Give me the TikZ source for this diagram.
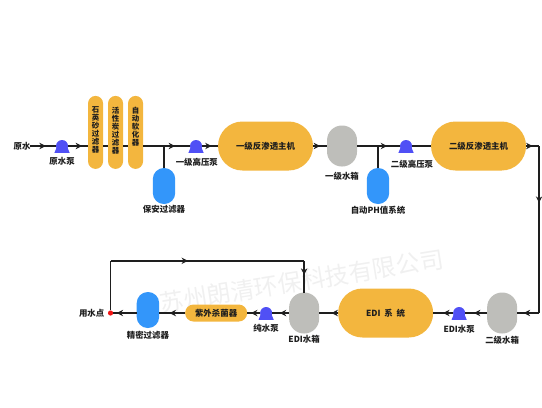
\documentclass[tikz,border=0pt]{standalone}
\usepackage{fontspec}
\setmainfont{Noto Sans CJK SC}
\usetikzlibrary{arrows.meta,positioning,calc,decorations.markings}
\definecolor{ink}{RGB}{30,30,30}
\definecolor{gold}{RGB}{243,182,62}
\definecolor{sky}{RGB}{51,150,250}
\definecolor{stone}{RGB}{190,190,186}
\definecolor{pumpblue}{RGB}{80,80,245}
\definecolor{dotred}{RGB}{240,20,20}
\definecolor{mark}{RGB}{240,240,240}
\tikzset{
  every picture/.style={color=ink, line width=0.35mm},
  every node/.style={outer sep=0pt},
  lbl/.style={font=\fontsize{6}{7}\selectfont\bfseries, text=ink, inner sep=0pt},
  vtext/.style={lbl, align=center, font=\fontsize{5.3}{5.7}\selectfont\bfseries},
  column/.style={fill=gold, rounded corners=1.875mm, minimum width=3.75mm, minimum height=18.25mm, inner sep=0pt},
  unit/.style={lbl, fill=gold, rounded corners=6.1mm, minimum width=23.75mm, minimum height=12.25mm},
  lamp/.style={lbl, fill=gold, rounded corners=2.1mm, minimum width=15.5mm, minimum height=4.25mm},
  tank/.style={fill=stone, rounded corners=3.7mm, minimum width=7.5mm, minimum height=10.25mm, inner sep=0pt},
  filt/.style={fill=sky, rounded corners=2.75mm, minimum width=5.6mm, minimum height=9mm, inner sep=0pt},
  pump/.style={circle, fill=pumpblue, minimum size=3mm, inner sep=0pt},
  pipe/.style={line width=0.35mm},
  flow/.style={pipe, postaction={decorate}, decoration={markings, mark=at position #1 with {\arrow{Stealth[length=1.6mm,width=1.6mm]}}}},
  flow/.default=0.5,
}
\begin{document}
\begin{tikzpicture}
  \useasboundingbox (0,0) rectangle (135.5mm,-101.75mm);
  \node[font=\fontsize{17}{17}\selectfont, text=mark, rotate=9, inner sep=0pt] (wm) at (75.4mm,-70.2mm) {苏州朗清环保科技有限公司};
  % top row
  \node[lbl] (raw) at (5.5mm,-36.5mm) {原水};
  \node[pump, right=6.4mm of raw] (pa) {};
  \node[column, right=5mm of pa, yshift=3.4mm] (fa) {};
  \node[column, right=1.25mm of fa] (fb) {};
  \node[column, right=1.25mm of fb] (fc) {};
  \node[vtext, below=2.7mm of fa.north] (ta) {石\\英\\砂\\过\\滤\\器};
  \node[vtext, below=2.7mm of fb.north] (tb) {活\\性\\炭\\过\\滤\\器};
  \node[vtext, below=2.7mm of fc.north] (tc) {自\\动\\软\\化\\器};
  \node[pump, right=11.75mm of fc, yshift=-3.4mm] (pb) {};
  \node[unit, right=4mm of pb] (ra) {一级反渗透主机};
  \node[tank, right=3.5mm of ra] (wa) {};
  \node[pump, right=10.75mm of wa] (pc) {};
  \node[unit, right=4.75mm of pc] (rb) {二级反渗透主机};
  \coordinate[right=3.25mm of rb] (ca);
  \node[filt, below=4mm of pb, xshift=-8mm] (ga) {};
  \node[filt, below=4mm of pc, xshift=-7mm] (gb) {};
  % bottom row
  \node[tank, below=30.5mm of rb, xshift=5.9mm] (wb) {};
  \coordinate (cb) at (ca |- wb);
  \node[pump, left=5.5mm of wb] (pd) {};
  \node[unit, left=5mm of pd] (edi) {EDI\ \ 系\ \ 统};
  \node[tank, left=4.75mm of edi] (wc) {};
  \node[pump, left=4.25mm of wc] (pe) {};
  \node[lamp, left=3.25mm of pe] (uv) {紫外杀菌器};
  \node[filt, left=6.5mm of uv, yshift=0.75mm] (gc) {};
  \node[circle, fill=dotred, minimum size=1.3mm, inner sep=0pt, left=5.9mm of gc, yshift=-0.75mm] (use) {};
  \node[lbl, left=0.9mm of use] (usel) {用水点};
  \coordinate[above=12.4mm of use] (la);
  \coordinate (lb) at (la -| wc);
  % labels
  \node[lbl, below=1.35mm of pa] (la1) {原水泵};
  \node[lbl, below=1.65mm of pb, xshift=0.2mm] (la2) {一级高压泵};
  \node[lbl, below=1.35mm of wa] (la3) {一级水箱};
  \node[lbl, below=2mm of pc, xshift=1.5mm] (la4) {二级高压泵};
  \node[lbl, below=0.2mm of ga] (la5) {保安过滤器};
  \node[lbl, below=0.5mm of gb] (la6) {自动PH值系统};
  \node[lbl, below=0.6mm of wb] (la7) {二级水箱};
  \node[lbl, below=1.55mm of pd] (la8) {EDI水泵};
  \node[lbl, below=0.4mm of wc] (la9) {EDI水箱};
  \node[lbl, below=1.35mm of pe] (la10) {纯水泵};
  \node[lbl, below=0.7mm of gc] (la11) {精密过滤器};
  % pump feet
  \foreach \n in {pa,pb,pc,pd,pe} {
    \fill[pumpblue] ($(\n.center)+(-1.2mm,0)$) -- ($(\n.center)+(1.2mm,0)$) -- ($(\n.center)+(1.9mm,-1.7mm)$) -- ($(\n.center)+(-1.9mm,-1.7mm)$) -- cycle;
  }
  % pipes
  \draw[flow=.6] (raw) -- (pa);
  \draw[flow=.7] (pa) -- (fa.west |- pa);
  \draw[pipe] (fa.east |- pa) -- (fb.west |- pa);
  \draw[pipe] (fb.east |- pa) -- (fc.west |- pa);
  \draw[flow=.68] (fc.east |- pa) -- (pb);
  \draw[pipe] (ga.north) -- (ga.north |- pb);
  \draw[flow=.6] (pb) -- (ra);
  \draw[flow] (ra) -- (wa);
  \draw[flow=.7] (wa) -- (pc);
  \draw[pipe] (gb.north) -- (gb.north |- pc);
  \draw[pipe] (pc) -- (rb);
  \draw[flow] (rb) -- (ca);
  \draw[flow=.34] (ca) -- (cb);
  \draw[flow=.7] (cb) -- (wb);
  \draw[flow=.6] (wb) -- (pd);
  \draw[flow] (pd) -- (edi);
  \draw[flow=.35] (edi) -- (wc);
  \draw[flow=.55] (wc) -- (pe);
  \draw[flow=.7] (pe) -- (uv);
  \draw[flow=.6] (uv) -- (gc.east |- uv);
  \draw[flow=.85] (gc.west |- use) -- (use);
  \draw[pipe] (use) -- (la);
  \draw[flow=.4] (la) -- (lb);
  \draw[flow=.44] (lb) -- (wc);
\end{tikzpicture}
\end{document}
